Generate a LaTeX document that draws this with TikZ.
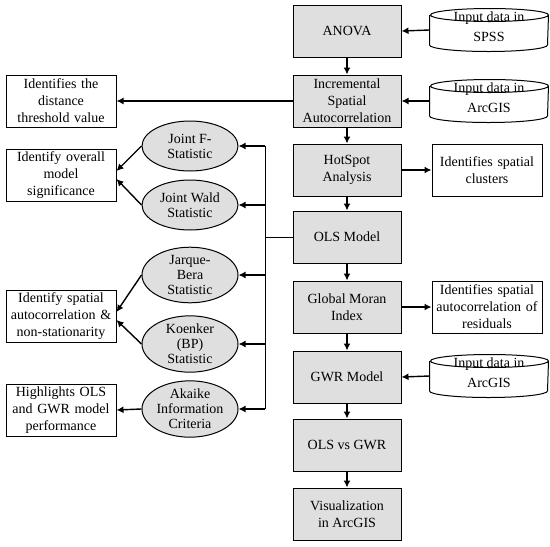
\documentclass[tikz,border=0pt]{standalone}
\usepackage{fontspec}
\setmainfont{Liberation Serif}
\usetikzlibrary{arrows.meta,shapes.geometric,positioning}
\tikzset{every picture/.style={line width=1pt}}
\tikzset{
  stepbox/.style={draw, fill=gray!25, minimum width=108pt, minimum height=52pt,
    align=center, font=\fontsize{14}{17}\selectfont},
  notebox/.style={draw, fill=white, text width=106pt, minimum height=52pt,
    inner sep=2pt, align=center, font=\fontsize{14}{17}\selectfont},
  stat/.style={ellipse, draw, fill=gray!25, minimum width=96pt, minimum height=50pt,
    inner sep=0pt, align=center, font=\fontsize{14}{15}\selectfont},
  datastore/.style={minimum width=118pt, minimum height=42pt, inner sep=0pt,
    label={[align=center, font=\fontsize{14}{20}\selectfont, yshift=3pt]center:#1}},
  arr/.style={-{Latex[length=7pt,width=7pt]}, line width=1.4pt}
}

\begin{document}
\begin{tikzpicture}[x=1pt,y=-1pt]
    \useasboundingbox (0,0) rectangle (550,547);

    % main steps
    \node[stepbox] (anova) at (347,31)  {ANOVA};
    \node[stepbox] (isa)   at (347,101) {Incremental\\Spatial\\Autocorrelation};
    \node[stepbox] (hsa)   at (347,170) {HotSpot\\Analysis};
    \node[stepbox] (ols)   at (347,237) {OLS Model};
    \node[stepbox] (gmi)   at (347,307) {Global Moran\\Index};
    \node[stepbox] (gwr)   at (347,377) {GWR Model};
    \node[stepbox] (cmp)   at (347,445) {OLS vs GWR};
    \node[stepbox] (vis)   at (347,514) {Visualization\\in ArcGIS};

    % input data (cylinder outline over the node)
    \node[datastore={Input data in\\SPSS}]   (spss) at (489,30)  {};
    \node[datastore={Input data in\\ArcGIS}] (arc1) at (489,101) {};
    \node[datastore={Input data in\\ArcGIS}] (arc2) at (489,376) {};
    \foreach \c in {spss, arc1, arc2} {
        \draw ([yshift=-6.5pt]\c.north west) -- ([yshift=6.5pt]\c.south west)
            arc[start angle=180, end angle=360, x radius=59pt, y radius=6.5pt]
            -- ([yshift=-6.5pt]\c.north east)
            arc[start angle=0, end angle=180, x radius=59pt, y radius=6.5pt]
            arc[start angle=180, end angle=360, x radius=59pt, y radius=6.5pt];
    }

    % outputs on the right
    \node[notebox] (clus) at (487,170) {Identifies spatial\\clusters};
    \node[notebox] (resi) at (487,307) {Identifies spatial\\autocorrelation of\\residuals};

    % statistics
    \node[stat] (jf) at (190,146) {Joint F-\\Statistic};
    \node[stat] (jw) at (190,205) {Joint Wald\\Statistic};
    \node[stat] (jb) at (190,275) {Jarque-\\Bera\\Statistic};
    \node[stat] (kb) at (190,344) {Koenker\\(BP)\\Statistic};
    \node[stat] (ak) at (190,409) {Akaike\\Information\\Criteria};

    % outputs on the left
    \node[notebox] (dist) at (61,101) {Identifies the\\distance\\threshold value};
    \node[notebox] (sig)  at (61,175) {Identify overall\\model\\significance};
    \node[notebox] (nst)  at (61,316) {Identify spatial\\autocorrelation \&\\non-stationarity};
    \node[notebox] (perf) at (61,410) {Highlights OLS\\and GWR model\\performance};

    % main flow
    \foreach \a/\b in {anova/isa, isa/hsa, hsa/ols, ols/gmi, gmi/gwr, gwr/cmp, cmp/vis}
        \draw[arr] (\a) -- (\b);

    % data into steps
    \draw[arr] (spss.west) -- (anova.east);
    \draw[arr] (arc1.west) -- (isa.east);
    \draw[arr] (arc2.west) -- (gwr.east);

    % step outputs
    \draw[arr] (hsa) -- (clus);
    \draw[arr] (gmi) -- (resi);
    \draw[arr] (isa.west) -- (dist.east);

    % bus from OLS to the statistics
    \coordinate (bus) at (265,237);
    \draw (ols.west) -- (bus);
    \draw (bus |- jf.east) -- (bus |- ak.east);
    \foreach \s in {jf, jw, jb, kb, ak}
        \draw[arr] (bus |- \s.east) -- (\s.east);

    % statistics to their meaning
    \draw[arr] (jf.west) -- ([yshift=4pt]sig.east);
    \draw[arr] (jw.west) -- ([yshift=-4pt]sig.east);
    \draw[arr] (jb.west) -- ([yshift=4pt]nst.east);
    \draw[arr] (kb.west) -- ([yshift=-4pt]nst.east);
    \draw[arr] (ak.west) -- (perf.east);
\end{tikzpicture}
\end{document}
